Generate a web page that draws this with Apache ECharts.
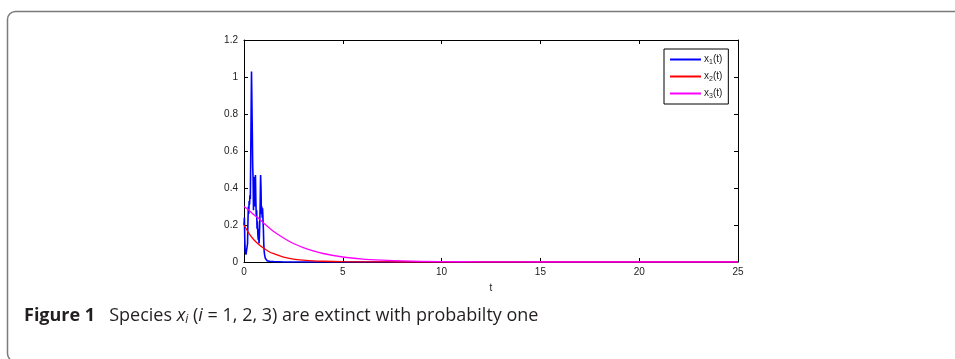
<!DOCTYPE html>
<html>
<head>
<meta charset="utf-8">
<script src="https://cdn.jsdelivr.net/npm/echarts@6/dist/echarts.min.js"></script>
<style>
html,body{margin:0;padding:0;background:#fff;}
#c{width:955px;height:359px;}
</style>
</head>
<body>
<div id="c"></div>
<script>
// ---- data ----
const seriesNames = ['x1(t)', 'x2(t)', 'x3(t)'];
const xTicks = [0, 5, 10, 15, 20, 25];
const yTicks = [0, 0.2, 0.4, 0.6, 0.8, 1, 1.2];

const t1 = [0, 0.02, 0.04, 0.06, 0.08, 0.10, 0.12, 0.14, 0.16, 0.18, 0.20, 0.22, 0.24, 0.26, 0.28, 0.30,
  0.32, 0.34, 0.36, 0.38, 0.40, 0.42, 0.44, 0.46, 0.48, 0.50, 0.52, 0.54, 0.56, 0.58, 0.60, 0.62, 0.64,
  0.66, 0.68, 0.70, 0.72, 0.74, 0.76, 0.78, 0.80, 0.82, 0.84, 0.86, 0.88, 0.90, 0.92, 0.94, 0.96, 0.98,
  1.00, 1.02, 1.04, 1.06, 1.08, 1.10, 1.12, 1.14, 1.16, 1.18, 1.20, 1.25, 1.30, 1.35, 1.40, 1.50, 1.60,
  1.80, 2.0, 3.0, 5, 10, 25];
const x1 = [0.20, 0.24, 0.12, 0.06, 0.07, 0.04, 0.03, 0.05, 0.04, 0.10, 0.22, 0.30, 0.26, 0.33, 0.31, 0.36,
  0.34, 0.55, 0.80, 1.03, 1.02, 0.70, 0.52, 0.45, 0.28, 0.46, 0.38, 0.30, 0.44, 0.47, 0.33, 0.25, 0.28,
  0.18, 0.22, 0.15, 0.12, 0.18, 0.10, 0.14, 0.22, 0.32, 0.47, 0.40, 0.26, 0.30, 0.24, 0.29, 0.28, 0.18,
  0.10, 0.06, 0.04, 0.03, 0.02, 0.015, 0.01, 0.008, 0.012, 0.006, 0.005, 0.006, 0.004, 0.006, 0.003, 0.002, 0.001,
  0.001, 0, 0, 0, 0, 0];

const t2 = [0, 0.25, 0.5, 0.75, 1, 1.25, 1.5, 2, 2.5, 3, 3.5, 4, 5, 6, 8, 10, 15, 20, 25];
const x2 = [0.20, 0.155, 0.12, 0.095, 0.074, 0.057, 0.045, 0.027, 0.016, 0.010, 0.006, 0.004, 0.0015, 0.0005, 0, 0, 0, 0, 0];

const t3 = [0, 0.25, 0.5, 0.75, 1, 1.5, 2, 2.5, 3, 3.5, 4, 5, 6, 7, 8, 10, 12, 15, 20, 25];
const x3 = [0.30, 0.28, 0.255, 0.235, 0.21, 0.165, 0.13, 0.10, 0.078, 0.06, 0.046, 0.027, 0.016, 0.010, 0.006, 0.002, 0.001, 0, 0, 0];

const colors = ['#0000ff', '#ff0000', '#ff00ff'];

// ---- chart ----
const chart = echarts.init(document.getElementById('c'), null, {renderer: 'canvas'});
const pair = (ts, vs) => ts.map((t, i) => [t, vs[i]]);
const labelFont = 'Liberation Sans, Arial, Helvetica, sans-serif';
const capFont = 'Open Sans, Noto Sans, sans-serif';

const baseX = {
  type: 'value', min: xTicks[0], max: xTicks[xTicks.length - 1], interval: 5,
  axisLine: {show: true, onZero: false, lineStyle: {color: '#000', width: 1}},
  axisTick: {show: true, inside: true, length: 4, lineStyle: {color: '#000'}},
  splitLine: {show: false}
};
const baseY = {
  type: 'value', min: yTicks[0], max: yTicks[yTicks.length - 1], interval: 0.2,
  axisLine: {show: true, onZero: false, lineStyle: {color: '#000', width: 1}},
  axisTick: {show: true, inside: true, length: 4, lineStyle: {color: '#000'}},
  splitLine: {show: false}
};

function legendFmt(name) {
  const m = name.match(/^x(\d)\(t\)$/);
  return '{a|x}{s|' + m[1] + '}{a|(t)}';
}

chart.setOption({
  animation: false,
  backgroundColor: '#fff',
  grid: {left: 244, right: 217, top: 40, bottom: 97},
  xAxis: [
    Object.assign({}, baseX, {
      position: 'bottom',
      name: 't', nameLocation: 'middle', nameGap: 21,
      nameTextStyle: {fontFamily: labelFont, fontSize: 10, color: '#222'},
      axisLabel: {fontFamily: labelFont, fontSize: 10, color: '#222', margin: 5,
        formatter: v => String(v)}
    }),
    Object.assign({}, baseX, {position: 'top', axisLabel: {show: false}})
  ],
  yAxis: [
    Object.assign({}, baseY, {
      position: 'left',
      axisLabel: {fontFamily: labelFont, fontSize: 10, color: '#222', margin: 6,
        formatter: v => String(Math.round(v * 10) / 10)}
    }),
    Object.assign({}, baseY, {position: 'right', axisLabel: {show: false}})
  ],
  legend: {
    data: seriesNames,
    orient: 'vertical',
    left: 664, top: 49,
    padding: [4, 6, 4, 6],
    itemGap: 4,
    itemWidth: 31, itemHeight: 2,
    icon: 'rect',
    borderColor: '#000', borderWidth: 1,
    backgroundColor: '#fff',
    formatter: legendFmt,
    textStyle: {
      fontFamily: labelFont, color: '#222', padding: [0, 0, 0, -2],
      rich: {
        a: {fontFamily: labelFont, fontSize: 10, color: '#222', lineHeight: 13},
        s: {fontFamily: labelFont, fontSize: 7, color: '#222', lineHeight: 13, padding: [6, 0, 0, 0]}
      }
    }
  },
  series: [
    {name: seriesNames[0], type: 'line', data: pair(t1, x1), showSymbol: false,
      lineStyle: {color: colors[0], width: 1.6}, itemStyle: {color: colors[0]}},
    {name: seriesNames[1], type: 'line', data: pair(t2, x2), showSymbol: false, smooth: 0.3,
      lineStyle: {color: colors[1], width: 1.3}, itemStyle: {color: colors[1]}},
    {name: seriesNames[2], type: 'line', data: pair(t3, x3), showSymbol: false, smooth: 0.3,
      lineStyle: {color: colors[2], width: 1.3}, itemStyle: {color: colors[2]}}
  ],
  graphic: [
    {type: 'rect', silent: true, z: -10,
      shape: {x: 7.5, y: 11.5, width: 1000, height: 350, r: [8, 0, 0, 8]},
      style: {fill: 'none', stroke: '#7a7a7a', lineWidth: 1.5}},
    {type: 'text', left: 24, top: 305, silent: true,
      style: {
        text: '{b|Figure 1}{n|   Species }{i|x}{si|i}{n| (}{i|i}{n| = 1, 2, 3) are extinct with probabilty one}',
        rich: {
          b: {fontFamily: capFont, fontWeight: 'bold', fontSize: 18, fill: '#231f20', lineHeight: 24},
          n: {fontFamily: capFont, fontSize: 18, fill: '#231f20', lineHeight: 24},
          i: {fontFamily: capFont, fontStyle: 'italic', fontSize: 18, fill: '#231f20', lineHeight: 24},
          si: {fontFamily: capFont, fontStyle: 'italic', fontSize: 12, fill: '#231f20', lineHeight: 24, padding: [9, 0, 0, 0]}
        }
      }}
  ]
});
</script>
</body>
</html>
